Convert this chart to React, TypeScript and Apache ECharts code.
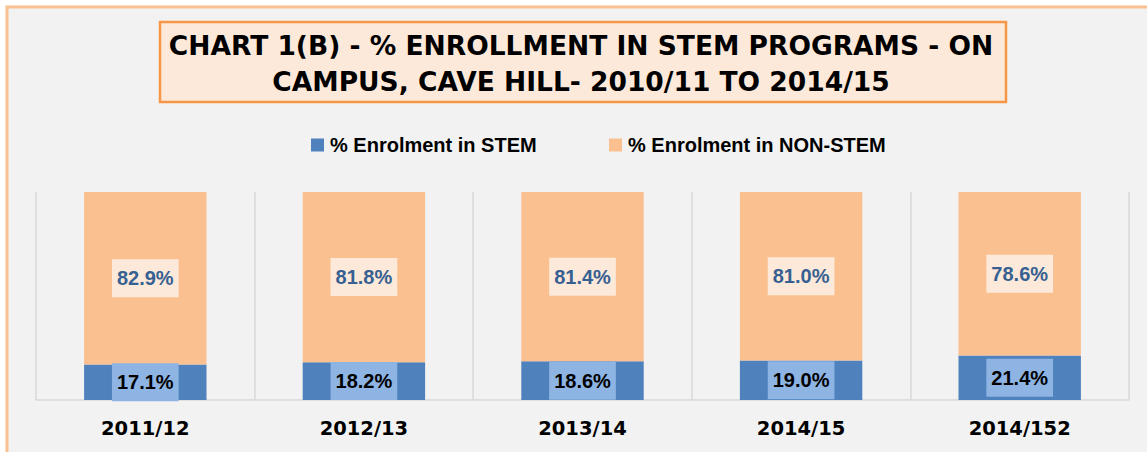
import React, { useEffect, useRef } from "react";
import * as echarts from "echarts";

const categories = ["2011/12", "2012/13", "2013/14", "2014/15", "2014/152"];
const stemValues = [17.1, 18.2, 18.6, 19.0, 21.4];
const nonStemValues = [82.9, 81.8, 81.4, 81.0, 78.6];
const seriesNames = ["% Enrolment in STEM", "% Enrolment in NON-STEM"];
const titleLines = [
  "CHART 1(B) - % ENROLLMENT IN STEM PROGRAMS - ON",
  "CAMPUS, CAVE HILL- 2010/11 TO 2014/15",
];

export default function App() {
  const ref = useRef<HTMLDivElement>(null);
  useEffect(() => {
    if (!ref.current) return;
    const chart = echarts.init(ref.current, undefined, { renderer: "svg" });
    const fmt = (p: any) => Number(p.value).toFixed(1) + "%";
    const legendText = {
      fontFamily: "Liberation Sans",
      fontWeight: "bold",
      fontSize: 20,
      color: "#000000",
      lineHeight: 20,
      padding: [0, 0, 0, 1],
    };
    chart.setOption({
      animation: false,
      backgroundColor: "#ffffff",
      graphic: [
        {
          type: "rect",
          z: -10,
          silent: true,
          shape: { x: 7, y: 7, width: 1160, height: 470 },
          style: { fill: "#f2f2f2", stroke: "#fac090", lineWidth: 3 },
        },
        {
          type: "rect",
          z: -5,
          silent: true,
          shape: { x: 160, y: 22, width: 846, height: 80 },
          style: { fill: "#fde9d9", stroke: "#f79646", lineWidth: 2.5 },
        },
        {
          type: "text",
          silent: true,
          x: 581,
          y: 63,
          style: {
            text: titleLines.join("\n"),
            fill: "#000000",
            font: "bold 26.5px 'DejaVu Sans'",
            lineHeight: 36,
            align: "center",
            verticalAlign: "middle",
          },
        },
      ],
      legend: [
        {
          left: 306,
          top: 130,
          data: [seriesNames[0]],
          icon: "rect",
          itemWidth: 13,
          itemHeight: 13,
          itemGap: 0,
          selectedMode: false,
          textStyle: legendText,
        },
        {
          left: 604,
          top: 130,
          data: [seriesNames[1]],
          icon: "rect",
          itemWidth: 13,
          itemHeight: 13,
          itemGap: 0,
          selectedMode: false,
          textStyle: legendText,
        },
      ],
      grid: { left: 36, right: 18, top: 192, bottom: 52, containLabel: false },
      xAxis: {
        type: "category",
        data: categories,
        axisTick: { show: false },
        axisLine: { show: true, lineStyle: { color: "#d9d9d9", width: 1.5 } },
        splitLine: { show: true, lineStyle: { color: "#d9d9d9", width: 1.5 } },
        axisLabel: {
          color: "#000000",
          fontFamily: "DejaVu Sans",
          fontWeight: "bold",
          fontSize: 19.5,
          lineHeight: 18,
          margin: 19,
        },
      },
      yAxis: { type: "value", min: 0, max: 100, show: false },
      series: [
        {
          name: seriesNames[0],
          type: "bar",
          stack: "total",
          barWidth: "56%",
          data: stemValues,
          itemStyle: { color: "#4f81bd" },
          label: {
            show: true,
            position: "inside",
            formatter: fmt,
            color: "#000000",
            backgroundColor: "#8db4e2",
            fontFamily: "Liberation Sans",
            fontWeight: "bold",
            fontSize: 20,
            lineHeight: 22,
            padding: [8, 5],
          },
        },
        {
          name: seriesNames[1],
          type: "bar",
          stack: "total",
          barWidth: "56%",
          data: nonStemValues,
          itemStyle: { color: "#fac090" },
          label: {
            show: true,
            position: "inside",
            formatter: fmt,
            color: "#376092",
            backgroundColor: "#fde9d9",
            fontFamily: "Liberation Sans",
            fontWeight: "bold",
            fontSize: 20,
            lineHeight: 22,
            padding: [8, 5],
          },
        },
      ],
    });
    return () => chart.dispose();
  }, []);
  return (
    <div
      ref={ref}
      style={{ position: "absolute", left: 0, top: 0, width: 1147, height: 452 }}
    />
  );
}
